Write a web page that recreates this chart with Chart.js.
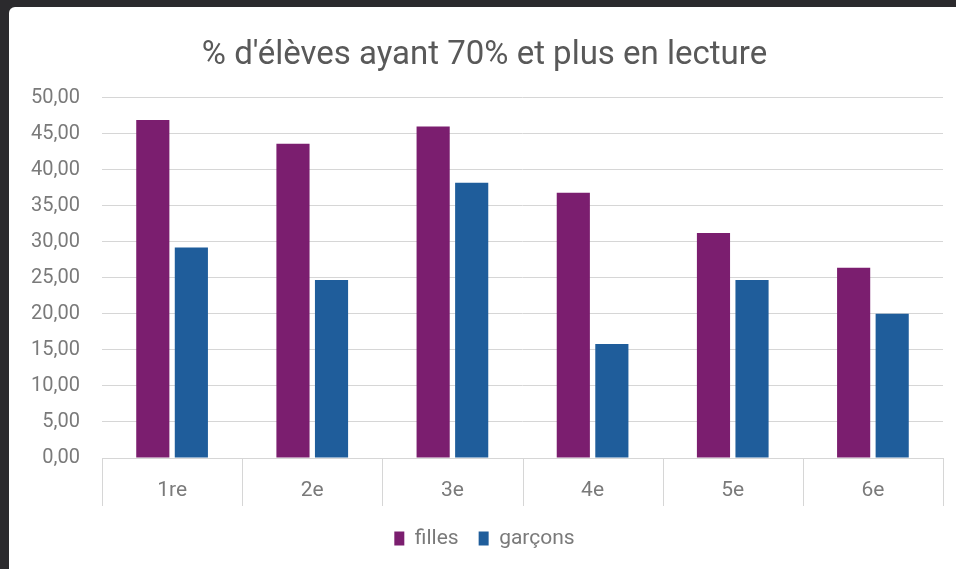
<!DOCTYPE html>
<html>
<head>
<meta charset="utf-8">
<script src="https://cdn.jsdelivr.net/npm/chart.js@4/dist/chart.umd.min.js"></script>
<style>
  html, body { margin: 0; padding: 0; }
  body { width: 956px; height: 569px; background: #2b2a2d; position: relative; overflow: hidden; }
  .card { position: absolute; left: 9px; top: 7px; right: 0; bottom: 0; background: #fff; border-top-left-radius: 6px; }
  .card canvas { display: block; }
</style>
</head>
<body>
<div class="card"><canvas id="chart" width="947" height="562"></canvas></div>
<script>
const titleText = "% d'élèves ayant 70% et plus en lecture"
const categories = ["1re", "2e", "3e", "4e", "5e", "6e"]
const filles = [46.9, 43.6, 46.0, 36.8, 31.2, 26.4]
const garcons = [29.2, 24.7, 38.2, 15.8, 24.7, 20.0]
const yMax = 50
const yStep = 5

const gridColor = "#d6d6d6"
const textColor = "#7a7a7a"
const fontFamily = "Roboto, 'Noto Sans', sans-serif"

// the boxes under each category, like the spreadsheet axis
const categoryBoxes = {
  id: "categoryBoxes",
  afterDraw(chart) {
    const x = chart.scales.x
    const { ctx, chartArea } = chart
    const step = x.getPixelForValue(1) - x.getPixelForValue(0)
    ctx.save()
    ctx.strokeStyle = gridColor
    ctx.lineWidth = 1
    for (let i = 0; i <= categories.length; i++) {
      const px = Math.round(x.getPixelForValue(i) - step / 2) + 0.5
      ctx.beginPath()
      ctx.moveTo(px, chartArea.bottom)
      ctx.lineTo(px, chartArea.bottom + 48)
      ctx.stroke()
    }
    ctx.restore()
  }
}

new Chart(document.getElementById("chart"), {
  type: "bar",
  data: {
    labels: categories,
    datasets: [
      { label: "filles", data: filles, backgroundColor: "#7b1e6f", categoryPercentage: 0.55, barPercentage: 0.86 },
      { label: "garçons", data: garcons, backgroundColor: "#1f5d9b", categoryPercentage: 0.55, barPercentage: 0.86 }
    ]
  },
  plugins: [categoryBoxes],
  options: {
    responsive: false,
    animation: false,
    layout: { padding: { left: 17, right: 13, top: 0, bottom: 10 } },
    plugins: {
      title: {
        display: true,
        text: titleText,
        color: "#595959",
        font: { size: 33, family: fontFamily, weight: "normal" },
        padding: { top: 29, bottom: 22 }
      },
      legend: {
        position: "bottom",
        labels: {
          color: textColor,
          boxWidth: 10,
          boxHeight: 14,
          padding: 20,
          font: { size: 21, family: fontFamily }
        }
      },
      tooltip: { enabled: false }
    },
    scales: {
      x: {
        border: { display: true, color: gridColor },
        grid: { display: false },
        afterFit: (s) => { s.height = 50 },
        ticks: { color: textColor, padding: 12, font: { size: 21, family: fontFamily } }
      },
      y: {
        min: 0,
        max: yMax,
        border: { display: false },
        grid: { color: gridColor, drawTicks: false },
        afterFit: (s) => { s.width = 76 },
        ticks: {
          stepSize: yStep,
          padding: 22,
          color: textColor,
          font: { size: 20, family: fontFamily },
          callback: (v) => v.toFixed(2).replace(".", ",")
        }
      }
    }
  }
})
</script>
</body>
</html>
